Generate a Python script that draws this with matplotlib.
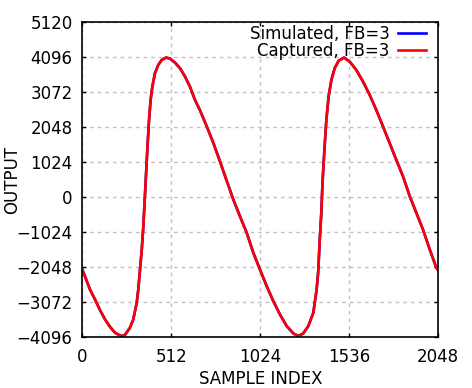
import matplotlib.pyplot as plt

# Values (sample index, output)
samples = [0, 15, 44, 73, 102, 131, 159, 188, 217, 231, 246, 274, 293, 313,
           322, 332, 342, 351, 357, 365, 370, 376, 384, 393, 403, 418, 437,
           457, 481, 505, 533, 562, 591, 619, 648, 677, 716, 754, 792, 827,
           869, 907, 946, 984, 1022, 1061, 1099, 1137, 1176, 1214, 1243, 1271,
           1300, 1329, 1348, 1357, 1366, 1375, 1381, 1385, 1394, 1404, 1417,
           1433, 1452, 1475, 1506, 1538, 1576, 1615, 1653, 1691, 1730, 1768,
           1806, 1845, 1884, 1922, 1960, 1999, 2037, 2048]
captured = [-2127, -2323, -2712, -3005, -3318, -3590, -3804, -3979, -4058,
            -4075, -4038, -3833, -3590, -3102, -2712, -2127, -1542, -860,
            -275, 506, 995, 1580, 2262, 2847, 3236, 3628, 3871, 4017, 4085,
            4056, 3938, 3775, 3529, 3236, 2847, 2540, 2066, 1580, 1042, 527,
            -79, -568, -1053, -1639, -2127, -2616, -3055, -3444, -3786, -4000,
            -4075, -4000, -3786, -3394, -2712, -2200, -1249, -468, 310, 702,
            1481, 2262, 2944, 3432, 3775, 3997, 4085, 3968, 3725, 3382, 2993,
            2554, 2066, 1580, 1091, 603, 18, -468, -957, -1542, -2077, -2150]
# simulated trace sits exactly under the captured one
simulated = list(captured)

x_ticks = [0, 512, 1024, 1536, 2048]
y_ticks = [-4096, -3072, -2048, -1024, 0, 1024, 2048, 3072, 4096, 5120]

plt.rcParams["font.family"] = "DejaVu Sans"
plt.rcParams["font.size"] = 12

fig = plt.figure(figsize=(4.72, 3.88), dpi=100)
ax = fig.add_axes([0.1744, 0.1322, 0.7542, 0.8103])

ax.plot(samples, simulated, color="#0000ff", lw=1.9, label="Simulated, FB=3")
ax.plot(samples, captured, color="#ff0000", lw=1.9, label="Captured, FB=3")

ax.set_xlim(0, 2048)
ax.set_ylim(-4096, 5120)
ax.set_xticks(x_ticks)
ax.set_yticks(y_ticks)
ax.tick_params(direction="in", length=3, width=1, top=True, right=True,
               labelsize=12, colors="black")
ax.tick_params(axis="x", pad=8)
ax.tick_params(axis="y", pad=7)
ax.grid(True, color="#c0c0c0", lw=1, linestyle=(0, (2.5, 3)))
for s in ax.spines.values():
    s.set_linewidth(1.2)

ax.set_xlabel("SAMPLE INDEX", fontsize=12, labelpad=3)
# y label placed by hand so it stays inside the figure
fig.text(12 / 472, 0.537, "OUTPUT", rotation=90, ha="center", va="center",
         fontsize=12)

ax.legend(loc="upper right", bbox_to_anchor=(0.966, 0.993), frameon=False,
          markerfirst=False, handlelength=1.7, handletextpad=0.5,
          labelspacing=-0.05, borderaxespad=0, borderpad=0, fontsize=12)

fig.savefig("out.png", dpi=100)
